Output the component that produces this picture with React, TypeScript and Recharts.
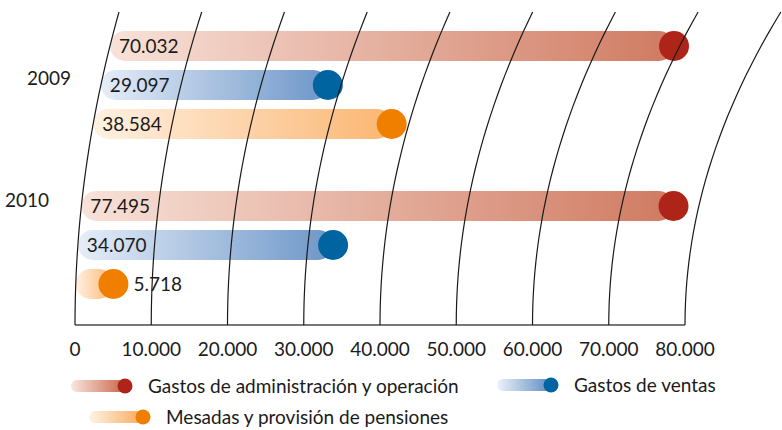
import React from "react";
import { BarChart, Bar, XAxis, YAxis } from "recharts";

const years = ["2009", "2010"];
const adminValues = [70032, 77495];
const ventasValues = [29097, 34070];
const pensionValues = [38584, 5718];
const xTicks = [0, 10000, 20000, 30000, 40000, 50000, 60000, 70000, 80000];

const data = years.map((year, i) => ({
  year,
  admin: adminValues[i],
  ventas: ventasValues[i],
  pensiones: pensionValues[i],
}));

const FONT = "Lato, 'Open Sans', sans-serif";
const TEXT = "#1b1b1b";
const LEFT = 75;
const AXIS_Y = 325;
const CURVE_TOP = 12;

// the gridlines lean to the right as they go up (decorative arcs)
const lean = (px: number, y: number) => {
  const t = (AXIS_Y - y) / (AXIS_Y - CURVE_TOP);
  return t * t * (44 + 0.085 * (px - LEFT));
};

const fmt = (v: number) =>
  String(v).replace(/\B(?=(\d{3})+(?!\d))/g, ".");

const makeShape = (key: string, gradId: string, dot: string) => (props: any) => {
  const { x, y, width, height, payload } = props;
  const cy = y + height / 2;
  const r = height / 2;
  const x0 = x + lean(x, cy);
  const end = x + width;
  const cx = end + lean(end, cy) - 6;
  const short = cx - x0 < 60;
  return (
    <g>
      <rect x={x0} y={y} width={Math.max(cx - x0, 0)} height={height} rx={r} fill={`url(#${gradId})`} />
      <circle cx={cx} cy={cy} r={r} fill={dot} />
      <text
        x={short ? cx + r + 5 : x0 + 9}
        y={cy}
        dy="0.36em"
        fontSize={19}
        fontFamily={FONT}
        fill={TEXT}
      >
        {fmt(payload[key])}
      </text>
    </g>
  );
};

const XTick = (props: any) => {
  const { x, y, payload } = props;
  const pts: string[] = [];
  for (let i = 0; i <= 30; i++) {
    const yy = y - ((y - CURVE_TOP) * i) / 30;
    pts.push(`${i === 0 ? "M" : "L"}${(x + lean(x, yy)).toFixed(2)},${yy.toFixed(2)}`);
  }
  return (
    <g>
      <path d={pts.join(" ")} fill="none" stroke="#1a1a1a" strokeWidth={1.2} />
      <text x={x} y={y + 31} textAnchor="middle" fontSize={19} fontFamily={FONT} fill={TEXT}>
        {payload.value === 0 ? "0" : fmt(payload.value)}
      </text>
    </g>
  );
};

const yearShift: Record<string, { dx: number; dy: number }> = {
  "2009": { dx: -4, dy: -7 },
  "2010": { dx: -26, dy: -45 },
};

const YTick = (props: any) => {
  const { y, payload } = props;
  const s = yearShift[payload.value] || { dx: 0, dy: 0 };
  return (
    <text x={LEFT + s.dx} y={y + s.dy} dy="0.36em" textAnchor="end" fontSize={19} fontFamily={FONT} fill={TEXT}>
      {payload.value}
    </text>
  );
};

const legendItems = [
  { label: "Gastos de administración y operación", from: "#f9e6de", to: "#c9664a", dot: "#ae2419", left: 71, top: 374 },
  { label: "Gastos de ventas", from: "#eef2fa", to: "#5c8cc3", dot: "#0064a0", left: 497, top: 373 },
  { label: "Mesadas y provisión de pensiones", from: "#fff3e6", to: "#f9a95c", dot: "#f07f00", left: 89, top: 405 },
];

const Swatch = ({ from, to, dot, id }: any) => (
  <svg width={64} height={20} style={{ display: "block" }}>
    <defs>
      <linearGradient id={id} x1="0" y1="0" x2="1" y2="0">
        <stop offset="0%" stopColor={from} />
        <stop offset="100%" stopColor={to} />
      </linearGradient>
    </defs>
    <rect x={0} y={4} width={54} height={12} rx={6} fill={`url(#${id})`} />
    <circle cx={54} cy={10} r={7.5} fill={dot} />
  </svg>
);

export default function App() {
  return (
    <div style={{ position: "absolute", left: 0, top: 0, width: 782, height: 430, background: "#fff" }}>
      <BarChart
        width={782}
        height={430}
        data={data}
        layout="vertical"
        margin={{ top: 5, right: 97, bottom: 75, left: 0 }}
        barSize={30}
        barGap={9}
      >
        <defs>
          <linearGradient id="gAdmin" x1="0" y1="0" x2="1" y2="0">
            <stop offset="0%" stopColor="#f8e2d9" />
            <stop offset="100%" stopColor="#d07a61" />
          </linearGradient>
          <linearGradient id="gVentas" x1="0" y1="0" x2="1" y2="0">
            <stop offset="0%" stopColor="#e6edf8" />
            <stop offset="100%" stopColor="#6c96c8" />
          </linearGradient>
          <linearGradient id="gPens" x1="0" y1="0" x2="1" y2="0">
            <stop offset="0%" stopColor="#fff1e2" />
            <stop offset="100%" stopColor="#fbb672" />
          </linearGradient>
        </defs>
        <YAxis type="category" dataKey="year" width={75} axisLine={false} tickLine={false} tick={<YTick />} />
        <Bar dataKey="admin" isAnimationActive={false} shape={makeShape("admin", "gAdmin", "#ae2419")} />
        <Bar dataKey="ventas" isAnimationActive={false} shape={makeShape("ventas", "gVentas", "#0064a0")} />
        <Bar dataKey="pensiones" isAnimationActive={false} shape={makeShape("pensiones", "gPens", "#f07f00")} />
        <XAxis
          type="number"
          domain={[0, 80000]}
          ticks={xTicks}
          interval={0}
          height={30}
          tickSize={0}
          tickMargin={0}
          tickLine={false}
          axisLine={{ stroke: "#4a4a4a", strokeWidth: 1.5 }}
          tick={<XTick />}
        />
      </BarChart>
      {legendItems.map((it, i) => (
        <div
          key={it.label}
          style={{ position: "absolute", left: it.left, top: it.top, display: "flex", alignItems: "center", fontFamily: FONT, fontSize: 19, color: TEXT, whiteSpace: "nowrap" }}
        >
          <Swatch from={it.from} to={it.to} dot={it.dot} id={`lg${i}`} />
          <span style={{ marginLeft: 13 }}>{it.label}</span>
        </div>
      ))}
    </div>
  );
}
